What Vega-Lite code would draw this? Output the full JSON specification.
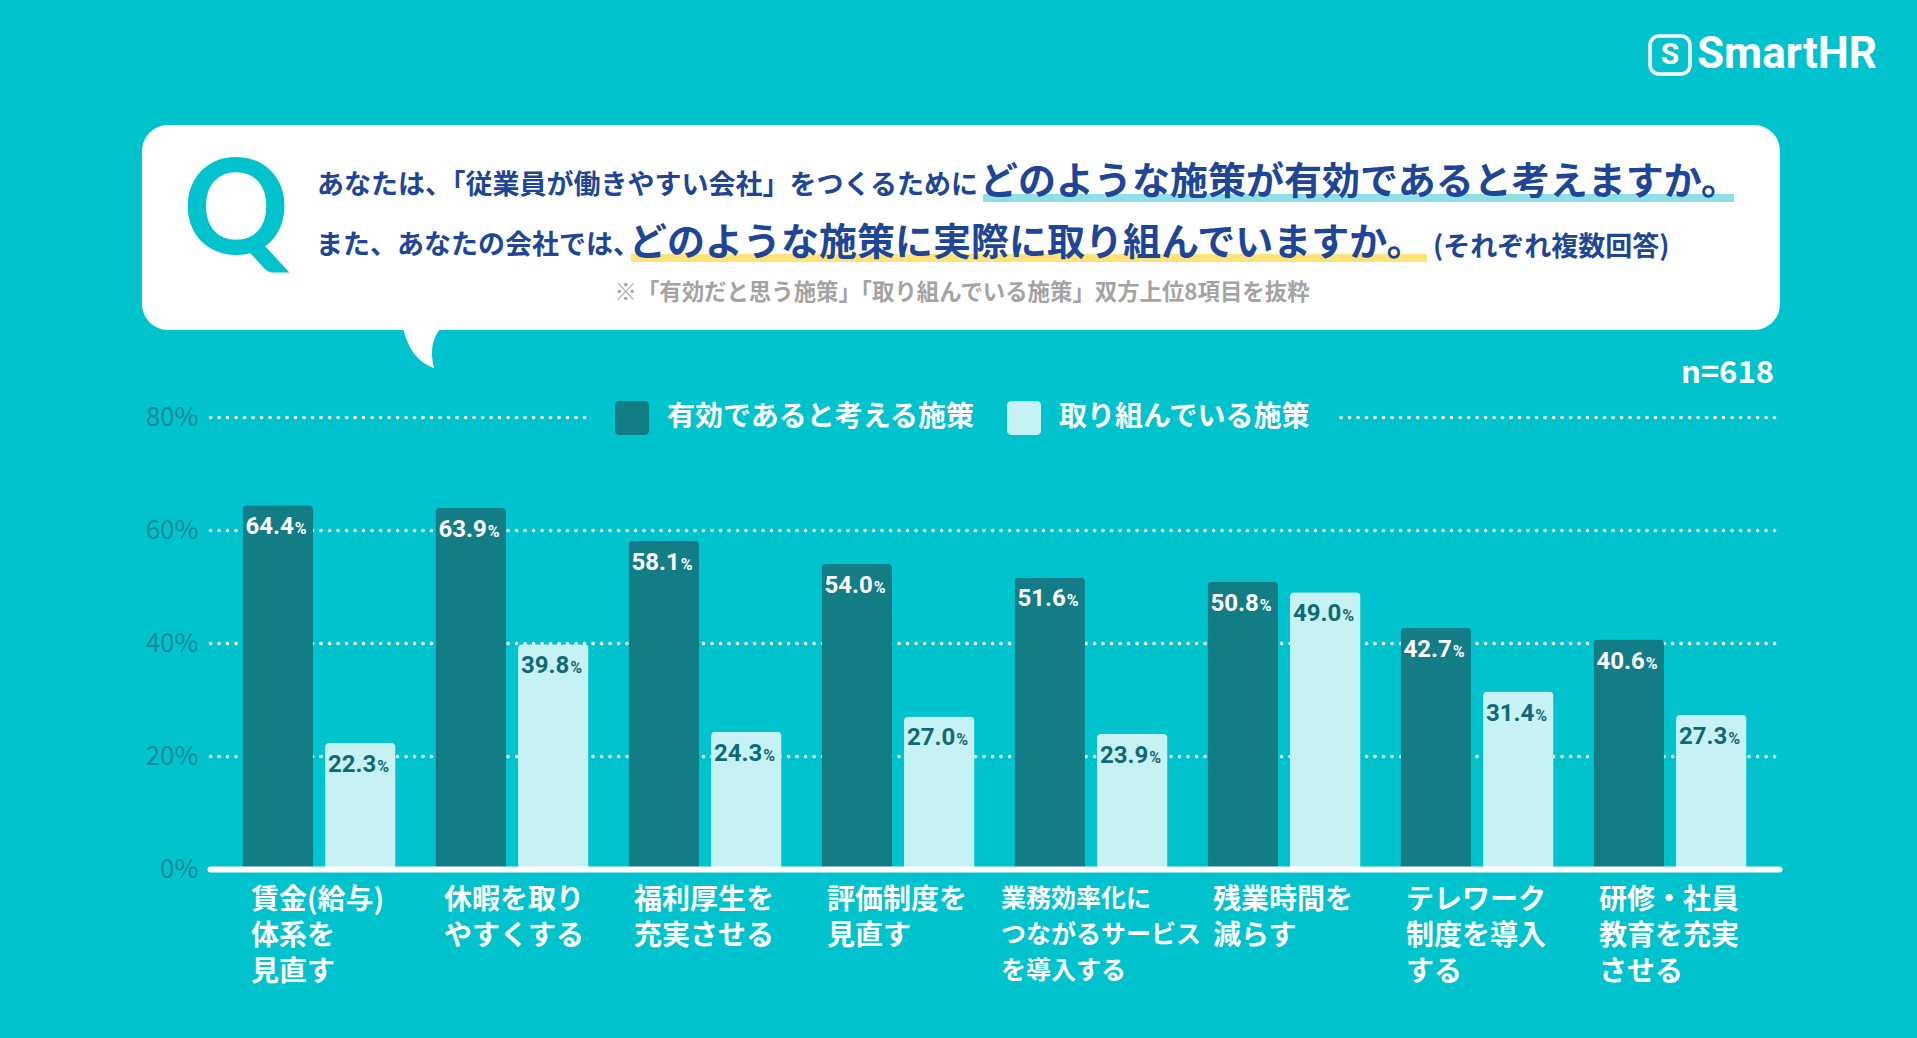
{"$schema":"https://vega.github.io/schema/vega-lite/v6.json","width":1569,"height":452,"autosize":{"type":"none"},"padding":{"left":210,"top":417,"right":138,"bottom":169},"background":"#00c3ce","config":{"view":{"stroke":null},"text":{"font":"Noto Sans CJK JP"},"axis":{"labelFont":"Noto Sans CJK JP"},"legend":{"labelFont":"Noto Sans CJK JP"}},"resolve":{"scale":{"x":"independent","y":"independent"},"axis":{"y":"independent","x":"independent"}},"layer":[{"data":{"values":[{"item":"賃金(給与)\n体系を\n見直す","series":"有効であると考える施策","value":64.4},{"item":"賃金(給与)\n体系を\n見直す","series":"取り組んでいる施策","value":22.3},{"item":"休暇を取り\nやすくする","series":"有効であると考える施策","value":63.9},{"item":"休暇を取り\nやすくする","series":"取り組んでいる施策","value":39.8},{"item":"福利厚生を\n充実させる","series":"有効であると考える施策","value":58.1},{"item":"福利厚生を\n充実させる","series":"取り組んでいる施策","value":24.3},{"item":"評価制度を\n見直す","series":"有効であると考える施策","value":54.0},{"item":"評価制度を\n見直す","series":"取り組んでいる施策","value":27.0},{"item":"業務効率化に\nつながるサービス\nを導入する","series":"有効であると考える施策","value":51.6},{"item":"業務効率化に\nつながるサービス\nを導入する","series":"取り組んでいる施策","value":23.9},{"item":"残業時間を\n減らす","series":"有効であると考える施策","value":50.8},{"item":"残業時間を\n減らす","series":"取り組んでいる施策","value":49.0},{"item":"テレワーク\n制度を導入\nする","series":"有効であると考える施策","value":42.7},{"item":"テレワーク\n制度を導入\nする","series":"取り組んでいる施策","value":31.4},{"item":"研修・社員\n教育を充実\nさせる","series":"有効であると考える施策","value":40.6},{"item":"研修・社員\n教育を充実\nさせる","series":"取り組んでいる施策","value":27.3}]},"encoding":{"x":{"field":"item","type":"nominal","sort":null,"title":null,"scale":{"paddingInner":0,"paddingOuter":0.0648},"axis":{"zindex":1,"labelAngle":0,"labelAlign":"left","labelColor":"#ffffff","labelFontSize":28,"labelFontWeight":"bold","labelLineHeight":36,"labelPadding":17,"labelLimit":400,"labelOverlap":false,"labelBound":false,"labelFlush":false,"labelExpr":"split(datum.label,'\\n')","ticks":false,"domainColor":"#ffffff","domainWidth":6,"domainCap":"round","grid":false,"encoding":{"labels":{"dx":{"value":{"expr":"datum.value[0]=='業'?-90:(datum.value[0]=='賃'||datum.value[0]=='休')?-68:-71"}},"fontSize":{"value":{"expr":"datum.value[0]=='業'?25:28"}}}}}},"xOffset":{"field":"series","type":"nominal","sort":null,"scale":{"range":[20,173],"paddingInner":0.146,"paddingOuter":0}},"y":{"field":"value","type":"quantitative","title":null,"scale":{"domain":[0,80],"nice":false},"axis":{"values":[0,20,40,60,80],"labelExpr":"datum.value+'%'","labelColor":"#0e8a96","labelFontSize":26,"labelPadding":12,"ticks":false,"domain":false,"grid":true,"gridColor":"#ffffff","gridWidth":3.5,"gridDash":[0.1,8.4],"gridCap":"round"}}},"layer":[{"mark":{"type":"bar","cornerRadiusTopLeft":4,"cornerRadiusTopRight":4},"encoding":{"color":{"field":"series","type":"nominal","sort":null,"scale":{"domain":["有効であると考える施策","取り組んでいる施策"],"range":["#127c87","#c6f2f3"]},"legend":{"title":null,"orient":"none","legendX":380,"legendY":-41,"direction":"horizontal","fillColor":"#00c3ce","padding":25,"symbolType":"M-1,-0.75A0.25,0.25,0,0,1,-0.75,-1L0.75,-1A0.25,0.25,0,0,1,1,-0.75L1,0.75A0.25,0.25,0,0,1,0.75,1L-0.75,1A0.25,0.25,0,0,1,-1,0.75Z","symbolSize":1156,"symbolStrokeWidth":0,"symbolOpacity":1,"labelColor":"#ffffff","labelFontSize":28,"labelFontWeight":"bold","labelOffset":18,"labelLimit":400,"columnPadding":31}}}},{"mark":{"type":"text","font":"Roboto","fontWeight":"bold","fontSize":24,"align":"right","baseline":"middle","dx":16,"dy":22},"encoding":{"text":{"field":"value","type":"quantitative","format":".1f"},"color":{"condition":{"test":"datum.series==='有効であると考える施策'","value":"#ffffff"},"value":"#0f6a75"}}},{"mark":{"type":"text","font":"Roboto","fontWeight":"bold","fontSize":16,"align":"left","baseline":"middle","dx":17,"dy":24,"text":"%"},"encoding":{"color":{"condition":{"test":"datum.series==='有効であると考える施策'","value":"#ffffff"},"value":"#0f6a75"}}}]},{"layer":[{"data":{"values":[{"part":"callout"}]},"mark":{"type":"rect","fill":"#ffffff","cornerRadius":26},"encoding":{"x":{"datum":-4.33,"type":"quantitative","axis":null,"scale":{"domain":[0,100],"nice":false}},"x2":{"datum":100.06},"y":{"datum":131.68,"type":"quantitative","axis":null,"scale":{"domain":[0,80],"nice":false}},"y2":{"datum":95.4}}},{"data":{"values":[{"part":"tail"}]},"mark":{"type":"point","filled":true,"fill":"#ffffff","opacity":1,"size":1444,"strokeWidth":0,"shape":"M-1,-1.1L1,-1.1Q0.3,-0.3,0.63,1Q-0.6,0.6,-1,-1.1Z"},"encoding":{"x":{"datum":13.51,"type":"quantitative","axis":null,"scale":{"domain":[0,100],"nice":false}},"y":{"datum":92.04,"type":"quantitative","axis":null,"scale":{"domain":[0,80],"nice":false}}}},{"data":{"values":[{"part":"underline effective"}]},"mark":{"type":"rect","fill":"#8fdfe6"},"encoding":{"x":{"datum":49.27,"type":"quantitative","axis":null,"scale":{"domain":[0,100],"nice":false}},"x2":{"datum":97.13},"y":{"datum":119.47,"type":"quantitative","axis":null,"scale":{"domain":[0,80],"nice":false}},"y2":{"datum":118.05}}},{"data":{"values":[{"part":"underline actual"}]},"mark":{"type":"rect","fill":"#ffe27a"},"encoding":{"x":{"datum":26.83,"type":"quantitative","axis":null,"scale":{"domain":[0,100],"nice":false}},"x2":{"datum":77.57},"y":{"datum":108.85,"type":"quantitative","axis":null,"scale":{"domain":[0,80],"nice":false}},"y2":{"datum":107.43}}},{"data":{"values":[{"t":"Q"}]},"mark":{"type":"text","fontSize":132,"fontWeight":"bold","font":"Lato","color":"#00c3ce","align":"center","baseline":"middle"},"encoding":{"text":{"field":"t"},"x":{"datum":1.66,"type":"quantitative","axis":null,"scale":{"domain":[0,100],"nice":false}},"y":{"datum":116.0,"type":"quantitative","axis":null,"scale":{"domain":[0,80],"nice":false}}}},{"data":{"values":[{"t":"あなたは、「従業員が働きやすい会社」をつくるために"}]},"mark":{"type":"text","fontSize":27,"fontWeight":"bold","color":"#1e4596","align":"left","baseline":"middle"},"encoding":{"text":{"field":"t"},"x":{"datum":6.82,"type":"quantitative","axis":null,"scale":{"domain":[0,100],"nice":false}},"y":{"datum":120.97,"type":"quantitative","axis":null,"scale":{"domain":[0,80],"nice":false}}}},{"data":{"values":[{"t":"どのような施策が有効であると考えますか。"}]},"mark":{"type":"text","fontSize":38,"fontWeight":"bold","color":"#1e4596","align":"left","baseline":"middle"},"encoding":{"text":{"field":"t"},"x":{"datum":49.08,"type":"quantitative","axis":null,"scale":{"domain":[0,100],"nice":false}},"y":{"datum":121.5,"type":"quantitative","axis":null,"scale":{"domain":[0,80],"nice":false}}}},{"data":{"values":[{"t":"また、あなたの会社では、"}]},"mark":{"type":"text","fontSize":27,"fontWeight":"bold","color":"#1e4596","align":"left","baseline":"middle"},"encoding":{"text":{"field":"t"},"x":{"datum":6.76,"type":"quantitative","axis":null,"scale":{"domain":[0,100],"nice":false}},"y":{"datum":110.2,"type":"quantitative","axis":null,"scale":{"domain":[0,80],"nice":false}}}},{"data":{"values":[{"t":"どのような施策に実際に取り組んでいますか。"}]},"mark":{"type":"text","fontSize":38,"fontWeight":"bold","color":"#1e4596","align":"left","baseline":"middle"},"encoding":{"text":{"field":"t"},"x":{"datum":26.71,"type":"quantitative","axis":null,"scale":{"domain":[0,100],"nice":false}},"y":{"datum":110.7,"type":"quantitative","axis":null,"scale":{"domain":[0,80],"nice":false}}}},{"data":{"values":[{"t":"(それぞれ複数回答)"}]},"mark":{"type":"text","fontSize":27,"fontWeight":"bold","color":"#1e4596","align":"left","baseline":"middle"},"encoding":{"text":{"field":"t"},"x":{"datum":77.95,"type":"quantitative","axis":null,"scale":{"domain":[0,100],"nice":false}},"y":{"datum":109.85,"type":"quantitative","axis":null,"scale":{"domain":[0,80],"nice":false}}}},{"data":{"values":[{"t":"※「有効だと思う施策」「取り組んでいる施策」双方上位8項目を抜粋"}]},"mark":{"type":"text","fontSize":22.4,"fontWeight":"bold","color":"#a3a3a3","align":"center","baseline":"middle"},"encoding":{"text":{"field":"t"},"x":{"datum":47.93,"type":"quantitative","axis":null,"scale":{"domain":[0,100],"nice":false}},"y":{"datum":101.9,"type":"quantitative","axis":null,"scale":{"domain":[0,80],"nice":false}}}},{"data":{"values":[{"t":"n=618"}]},"mark":{"type":"text","fontSize":31,"fontWeight":"bold","color":"#ffffff","align":"right","baseline":"middle"},"encoding":{"text":{"field":"t"},"x":{"datum":99.68,"type":"quantitative","axis":null,"scale":{"domain":[0,100],"nice":false}},"y":{"datum":87.61,"type":"quantitative","axis":null,"scale":{"domain":[0,80],"nice":false}}}},{"data":{"values":[{"part":"logo icon"}]},"mark":{"type":"rect","fill":null,"stroke":"#ffffff","strokeWidth":3.5,"cornerRadius":9},"encoding":{"x":{"datum":91.78,"type":"quantitative","axis":null,"scale":{"domain":[0,100],"nice":false}},"x2":{"datum":94.33},"y":{"datum":147.43,"type":"quantitative","axis":null,"scale":{"domain":[0,80],"nice":false}},"y2":{"datum":140.71}}},{"data":{"values":[{"t":"S"}]},"mark":{"type":"text","fontSize":30,"fontWeight":"bold","font":"Roboto","color":"#ffffff","align":"center","baseline":"middle"},"encoding":{"text":{"field":"t"},"x":{"datum":93.05,"type":"quantitative","axis":null,"scale":{"domain":[0,100],"nice":false}},"y":{"datum":144.07,"type":"quantitative","axis":null,"scale":{"domain":[0,80],"nice":false}}}},{"data":{"values":[{"t":"SmartHR"}]},"mark":{"type":"text","fontSize":44,"fontWeight":"bold","font":"Roboto","color":"#ffffff","align":"left","baseline":"middle"},"encoding":{"text":{"field":"t"},"x":{"datum":94.77,"type":"quantitative","axis":null,"scale":{"domain":[0,100],"nice":false}},"y":{"datum":144.07,"type":"quantitative","axis":null,"scale":{"domain":[0,80],"nice":false}}}}]}]}
